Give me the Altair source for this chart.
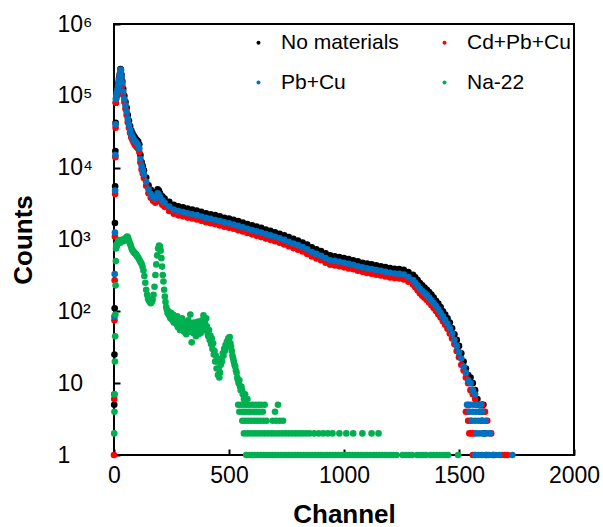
import altair as alt
import pandas as pd

# legend order (filled column by column): No materials, Pb+Cu | Cd+Pb+Cu, Na-22
series_names = ["No materials", "Pb+Cu", "Cd+Pb+Cu", "Na-22"]
series_colors = ["#000000", "#0070C0", "#FF0000", "#00B050"]

x_ticks = [0, 500, 1000, 1500, 2000]
y_ticks = [1, 10, 100, 1000, 10000, 100000, 1000000]

# shared channel grid for the three shielding spectra
main_channels = [
    1, 2, 3, 4, 5, 6, 7, 8,
    10, 12, 15, 18, 20, 22, 25, 28, 30, 33, 36, 40,
    45, 50, 55, 60, 65, 70, 75, 80, 85, 90, 95, 100, 105, 110, 115, 120, 125, 130,
    140, 150, 160, 170, 180,
    185, 190, 195, 200,
    210, 220,
    240, 260, 280, 300, 320, 340, 360, 380, 400, 420,
    440, 460, 480, 500, 520, 540, 560, 580, 600, 620,
    640, 660, 680, 700, 720, 740, 760, 780, 800, 820,
    840, 860, 880, 900, 920, 940, 960, 980, 1000, 1020,
    1040, 1060, 1080, 1100, 1120, 1140, 1160, 1180, 1200, 1220,
    1240, 1260, 1280,
    1300, 1310, 1320, 1330, 1340, 1350, 1360, 1370, 1380, 1390,
    1400, 1410, 1420, 1430, 1440, 1450, 1460, 1470, 1480, 1490,
    1500, 1510, 1520, 1530, 1540, 1550, 1560, 1570, 1580,
]

black_counts = [
    5, 25, 110, 1700, 5500, 17000, 42000, 80000,
    105000, 115000, 125000, 140000, 155000, 175000, 200000, 235000, 230000, 195000, 160000, 125000,
    100000, 82000, 68000, 54000, 45000, 38000, 33000, 30000, 28000, 26500, 25000, 24000, 23000, 21000, 15000, 12000, 10500, 9200,
    7300, 5700, 4900, 4400, 4200,
    4600, 5000, 4800, 4400,
    4000, 3700,
    3350, 3050, 2900, 2800, 2700, 2620, 2530, 2430, 2320, 2250,
    2180, 2100, 2010, 1950, 1880, 1800, 1720, 1640, 1570, 1510,
    1450, 1380, 1320, 1260, 1200, 1140, 1080, 1020, 970, 910,
    850, 780, 730, 690, 640, 600, 585, 570, 550, 535,
    515, 495, 475, 462, 450, 437, 425, 412, 400, 392,
    388, 378, 352,
    322, 298, 272, 248, 230, 214, 200, 186, 171, 156,
    140, 128, 115, 100, 90, 80, 70, 58, 48, 40,
    33, 26, 20, 16, 13, 12, 10, 8, 6,
]

red_counts = [
    6, 75, 270, 1100, 4300, 14000, 36000, 80000,
    92000, 100000, 110000, 125000, 140000, 160000, 185000, 215000, 210000, 170000, 138000, 105000,
    82000, 66000, 54000, 43000, 36000, 30500, 26500, 24500, 22500, 21000, 20000, 19200, 18300, 16500, 11800, 9400, 8300, 7200,
    5600, 4400, 3800, 3450, 3250,
    3500, 3900, 3700, 3400,
    3050, 2850,
    2500, 2280, 2170, 2100, 2020, 1960, 1900, 1820, 1740, 1690,
    1630, 1570, 1510, 1460, 1410, 1350, 1290, 1230, 1180, 1130,
    1080, 1030, 990, 945, 900, 855, 805, 760, 720, 680,
    630, 580, 545, 515, 475, 445, 435, 425, 410, 395,
    385, 368, 355, 343, 333, 323, 315, 305, 296, 290,
    286, 278, 258,
    236, 216, 196, 178, 165, 154, 144, 133, 122, 111,
    101, 91, 82, 73, 65, 57, 49, 42, 35, 28,
    23, 18, 15, 12, 10, 8, 7, 6, 5,
]

blue_counts = [
    7, 85, 330, 1250, 4800, 15000, 40000, 90000,
    100000, 110000, 120000, 135000, 150000, 170000, 195000, 230000, 225000, 185000, 150000, 115000,
    90000, 73000, 60000, 48000, 40000, 34000, 29500, 27000, 25000, 23500, 22500, 21500, 20500, 18500, 13200, 10600, 9300, 8100,
    6400, 5000, 4300, 3900, 3700,
    4000, 4400, 4200, 3900,
    3500, 3250,
    2880, 2620, 2490, 2410, 2320, 2250, 2180, 2090, 2000, 1940,
    1870, 1810, 1730, 1680, 1620, 1550, 1480, 1410, 1350, 1300,
    1250, 1190, 1140, 1090, 1040, 990, 930, 880, 835, 785,
    730, 670, 630, 595, 550, 515, 505, 490, 475, 460,
    445, 425, 410, 397, 387, 376, 366, 354, 344, 336,
    332, 324, 300,
    272, 250, 228, 206, 192, 179, 168, 155, 142, 130,
    118, 107, 96, 85, 76, 67, 58, 49, 40, 33,
    27, 22, 17, 14, 11, 10, 8, 7, 5,
]

# low-count tails (integer counts)
black_tail_channels = [1600, 1606, 1590, 1608, 1600, 1610, 1620, 1650]
black_tail_counts = [5, 5, 4, 4, 3, 2, 1, 1]

red_tail_channels = [0, 1540, 1600, 1530, 1540, 1600, 1613, 1540, 1550, 1623,
                     1545, 1555, 1565, 1640, 1560, 1570, 1685, 1700, 1710]
red_tail_counts = [1, 5, 5, 4, 4, 4, 4, 3, 3, 3,
                   2, 2, 2, 2, 1, 1, 1, 1, 1]

blue_tail_channels = [1535, 1550, 1565, 1580, 1595,
                      1545, 1560, 1575, 1590, 1600,
                      1555, 1570, 1585, 1600, 1615,
                      1575, 1590, 1605, 1620, 1635,
                      1570, 1585, 1600, 1615, 1630, 1645, 1660, 1675, 1732]
blue_tail_counts = [5, 5, 5, 5, 5,
                    4, 4, 4, 4, 4,
                    3, 3, 3, 3, 3,
                    2, 2, 2, 2, 2,
                    1, 1, 1, 1, 1, 1, 1, 1, 1]

# Na-22 source spectrum
green_channels = [
    1, 2, 3, 4, 5, 6, 7, 8, 9, 10,
    13, 16, 19, 22, 25, 28, 31, 34, 37, 40,
    43, 46, 49, 52, 55, 58, 61, 64, 67, 70,
    73, 76, 79, 82, 85, 88, 91, 94, 97, 100,
    104, 108, 112, 116, 120, 124, 128, 132, 136, 140,
    144, 148, 152, 156, 160, 164, 168, 172, 176, 180,
    184, 188, 192, 196, 200, 203, 206, 209, 212, 215,
    218, 221, 224, 227, 230, 233, 236, 239, 242, 245,
    248, 251, 254, 257, 260, 263, 266, 269, 272, 275,
    278, 281, 284, 287, 290, 293, 296, 299, 302, 305,
    308, 311, 314, 317, 320, 323, 326, 329, 332, 335,
    338, 341, 344, 347, 350, 353, 356, 359, 362, 365,
    368, 371, 374, 377, 380, 383, 386, 389, 392, 395,
    398, 401, 404, 407, 410, 413, 416, 419, 422, 425,
    428, 431, 434, 437, 440, 443, 446, 449, 452, 455,
    458, 461, 464, 467, 470, 473, 476, 479, 482, 485,
    488, 491, 494, 497, 500, 503, 506, 509, 512, 515,
    518, 521, 524, 527, 530, 533, 536, 539, 542, 545,
    548, 551, 554, 557, 560, 565, 570, 575, 580,
]
green_counts = [
    2, 4, 7, 20, 45, 90, 230, 500, 750, 850,
    820, 900, 950, 980, 930, 900, 950, 960, 1000, 980,
    950, 1000, 1020, 1050, 1080, 1100, 1050, 980, 920, 870,
    820, 760, 720, 690, 680, 650, 640, 630, 610, 590,
    570, 540, 510, 480, 460, 420, 370, 310, 250, 200,
    170, 150, 140, 135, 130, 135, 145, 170, 220, 320,
    450, 600, 750, 820, 800, 700, 550, 420, 320, 260,
    200, 160, 135, 115, 105, 95, 100, 88, 92, 80,
    95, 85, 75, 90, 70, 82, 72, 78, 66, 85,
    60, 75, 68, 55, 72, 60, 80, 58, 66, 52,
    70, 62, 48, 64, 57, 75, 52, 68, 90, 55,
    37, 62, 50, 70, 56, 65, 45, 60, 52, 72,
    48, 58, 62, 50, 68, 75, 55, 88, 60, 70,
    55, 80, 62, 50, 45, 55, 40, 46, 35, 42,
    30, 36, 25, 28, 20, 24, 16, 20, 13, 16,
    12, 14, 18, 22, 20, 26, 24, 30, 28, 34,
    32, 38, 36, 42, 40, 44, 36, 32, 28, 24,
    22, 20, 18, 17, 15, 14, 12, 11, 10, 11,
    9, 8, 9, 8, 7, 6, 7, 6, 6,
]

green_channels_at_5 = [540, 552, 565, 578, 590, 603, 615, 628, 640, 655, 713]
green_channels_at_4 = [545, 558, 570, 583, 595, 608, 620, 633, 647, 700]
green_channels_at_3 = [558, 570, 583, 596, 610, 623, 636, 650, 663, 690, 705, 720, 735]
green_channels_at_2 = [565, 580, 595, 610, 625, 640, 655, 670, 685, 700, 715, 730, 745, 760,
                       775, 790, 805, 820, 835, 850, 870, 890, 910, 930, 950, 980, 1010,
                       1040, 1080, 1120, 1150]
green_channels_at_1 = [575, 588, 600, 612, 625, 638, 650, 662, 675, 688, 700, 712, 725, 738,
                       750, 762, 775, 788, 800, 812, 825, 838, 850, 862, 875, 888, 900, 912,
                       925, 938, 950, 962, 975, 988, 1000, 1012, 1025, 1038, 1050, 1062, 1075,
                       1088, 1100, 1115, 1128, 1140, 1152, 1165, 1178, 1190, 1203, 1215, 1228,
                       1255, 1268, 1280, 1295, 1318, 1330, 1343, 1356, 1377, 1390, 1403, 1416,
                       1429, 1442, 1452, 1496]


def block(name, chs, cts):
    return pd.DataFrame({"channel": chs, "counts": cts, "series": name})


# drawing order: black, red, blue, green (later ones on top)
frames = [
    block("No materials", main_channels, black_counts),
    block("No materials", black_tail_channels, black_tail_counts),
    block("Cd+Pb+Cu", main_channels, red_counts),
    block("Cd+Pb+Cu", red_tail_channels, red_tail_counts),
    block("Pb+Cu", main_channels, blue_counts),
    block("Pb+Cu", blue_tail_channels, blue_tail_counts),
    block("Na-22", green_channels, green_counts),
]
for level, chs in [(5, green_channels_at_5), (4, green_channels_at_4), (3, green_channels_at_3),
                   (2, green_channels_at_2), (1, green_channels_at_1)]:
    frames.append(block("Na-22", chs, [level] * len(chs)))

df = pd.concat(frames, ignore_index=True)

font = "Liberation Sans"

y_label_expr = ("datum.value == 100 ? '10²' : datum.value == 1000 ? '10³' : "
                "datum.value == 10000 ? '10⁴' : datum.value == 100000 ? '10⁵' : "
                "datum.value == 1000000 ? '10⁶' : datum.value == 10 ? '10' : '1'")

chart = alt.Chart(df).mark_circle(size=44, opacity=1).encode(
    x=alt.X(
        "channel:Q",
        scale=alt.Scale(domain=[0, 2000], nice=False, zero=False),
        axis=alt.Axis(
            values=x_ticks, grid=False, domain=False, ticks=True, tickSize=6,
            tickWidth=2, tickColor="black", offset=-6,
            labelFont=font, labelFontSize=23, labelColor="black", labelPadding=9,
            labelFlush=False, labelOverlap=False, format="d",
            title="Channel", titleFont=font, titleFontSize=26, titleFontWeight="bold",
            titleColor="black", titleY=73, titleBaseline="alphabetic",
        ),
    ),
    y=alt.Y(
        "counts:Q",
        scale=alt.Scale(type="log", domain=[1, 1000000], nice=False),
        axis=alt.Axis(
            values=y_ticks, grid=False, domain=False, ticks=True, tickSize=6,
            tickWidth=2, tickColor="black", offset=-6,
            labelFont=font, labelFontSize=23, labelColor="black", labelPadding=57,
            labelAlign="left", labelBaseline="middle", labelFlush=False,
            labelOverlap=False, labelExpr=y_label_expr,
            title="Counts", titleFont=font, titleFontSize=26, titleFontWeight="bold",
            titleColor="black", titleX=-97, titleBaseline="middle",
        ),
    ),
    color=alt.Color(
        "series:N",
        scale=alt.Scale(domain=series_names, range=series_colors),
        legend=alt.Legend(
            title=None, orient="none", legendX=134, legendY=8, columns=2,
            columnPadding=35, rowPadding=18, padding=0, symbolType="circle",
            symbolSize=16, symbolStrokeWidth=0, labelFont=font, labelFontSize=21,
            labelColor="black", labelOffset=12, labelLimit=300,
        ),
    ),
).properties(
    width=460,
    height=431,
    autosize=alt.AutoSizeParams(type="none"),
    padding={"left": 114, "top": 24, "right": 29, "bottom": 72},
).configure_view(stroke="black", strokeWidth=2)

chart.save("out.html", embed_options={"renderer": "svg", "actions": False})
